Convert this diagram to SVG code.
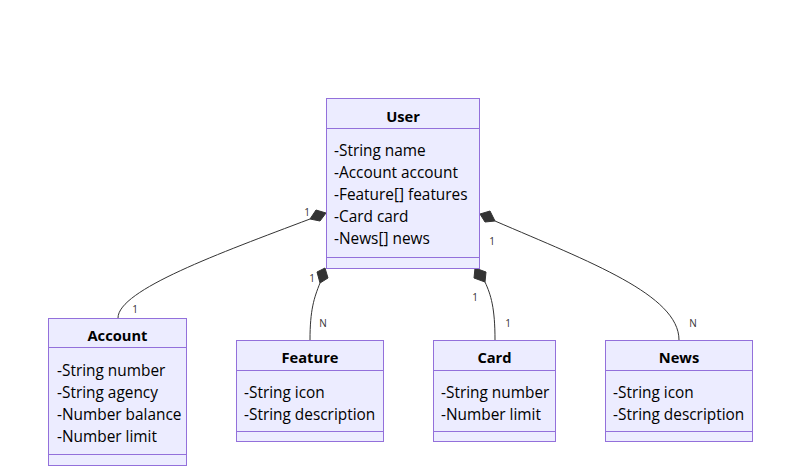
<svg xmlns="http://www.w3.org/2000/svg" width="797" height="474" viewBox="0 0 797 474">
  <defs>
    <style>
      .box { fill: #ECECFF; stroke: #9370DB; stroke-width: 1; }
      .div { stroke: #9370DB; stroke-width: 1; }
      .title { font-family: "Open Sans", "DejaVu Sans", sans-serif; font-size: 14.7px; font-weight: bold; fill: #000; text-anchor: middle; }
      .attr { font-family: "Open Sans", "DejaVu Sans", sans-serif; font-size: 15.4px; fill: #000; }
      .rel { fill: none; stroke: #333; stroke-width: 1; }
      .card { font-family: "Open Sans", "DejaVu Sans", sans-serif; font-size: 10px; fill: #333; text-anchor: middle; }
      .diamond { fill: #333; stroke: #333; stroke-width: 1; }
    </style>
  </defs>
  <rect width="797" height="474" fill="#fff"/>

  <!-- composition links with cardinalities -->
  <g id="connectors">
    <path class="rel" d="M310,219 C220,253 118,290 118,318"/>
    <path class="diamond" d="M326,213 L316,210 L310,219 L320,221 Z"/>
    <text class="card" x="307" y="216">1</text>
    <text class="card" x="135" y="313">1</text>

    <path class="rel" d="M320,283 C314,298 310,310 310,340"/>
    <path class="diamond" d="M325,268 L317,272 L320,283 L328,278 Z"/>
    <text class="card" x="312" y="282">1</text>
    <text class="card" x="323" y="327">N</text>

    <path class="rel" d="M485,282 C491,295 495,308 495,340"/>
    <path class="diamond" d="M475,268 L474,278 L485,282 L486,272 Z"/>
    <text class="card" x="475" y="301">1</text>
    <text class="card" x="508" y="327">1</text>

    <path class="rel" d="M495,221 C590,262 679,295 679,340"/>
    <path class="diamond" d="M480,214 L485,222 L495,221 L490,211 Z"/>
    <text class="card" x="492" y="245">1</text>
    <text class="card" x="693" y="327">N</text>
  </g>

  <g id="User">
    <rect class="box" x="326.5" y="98.5" width="153" height="170"/>
    <line class="div" x1="326.5" y1="128.5" x2="479.5" y2="128.5"/>
    <line class="div" x1="326.5" y1="257.5" x2="479.5" y2="257.5"/>
    <text class="title" x="403" y="122">User</text>
    <text class="attr" x="334" y="156">-String name</text>
    <text class="attr" x="334" y="178">-Account account</text>
    <text class="attr" x="334" y="200">-Feature[] features</text>
    <text class="attr" x="334" y="222">-Card card</text>
    <text class="attr" x="334" y="244">-News[] news</text>
  </g>

  <g id="Account">
    <rect class="box" x="48.5" y="318.5" width="138" height="147"/>
    <line class="div" x1="48.5" y1="347.5" x2="186.5" y2="347.5"/>
    <line class="div" x1="48.5" y1="454.5" x2="186.5" y2="454.5"/>
    <text class="title" x="117.5" y="341">Account</text>
    <text class="attr" x="57" y="376">-String number</text>
    <text class="attr" x="57" y="398">-String agency</text>
    <text class="attr" x="57" y="420">-Number balance</text>
    <text class="attr" x="57" y="442">-Number limit</text>
  </g>

  <g id="Feature">
    <rect class="box" x="236.5" y="340.5" width="147" height="101"/>
    <line class="div" x1="236.5" y1="370.5" x2="383.5" y2="370.5"/>
    <line class="div" x1="236.5" y1="431.5" x2="383.5" y2="431.5"/>
    <text class="title" x="310" y="362.5">Feature</text>
    <text class="attr" x="244" y="398">-String icon</text>
    <text class="attr" x="244" y="420">-String description</text>
  </g>

  <g id="Card">
    <rect class="box" x="433.5" y="340.5" width="122" height="101"/>
    <line class="div" x1="433.5" y1="370.5" x2="555.5" y2="370.5"/>
    <line class="div" x1="433.5" y1="431.5" x2="555.5" y2="431.5"/>
    <text class="title" x="494.5" y="362.5">Card</text>
    <text class="attr" x="441" y="398">-String number</text>
    <text class="attr" x="441" y="420">-Number limit</text>
  </g>

  <g id="News">
    <rect class="box" x="605.5" y="340.5" width="147" height="101"/>
    <line class="div" x1="605.5" y1="370.5" x2="752.5" y2="370.5"/>
    <line class="div" x1="605.5" y1="431.5" x2="752.5" y2="431.5"/>
    <text class="title" x="679" y="362.5">News</text>
    <text class="attr" x="613" y="398">-String icon</text>
    <text class="attr" x="613" y="420">-String description</text>
  </g>
</svg>
